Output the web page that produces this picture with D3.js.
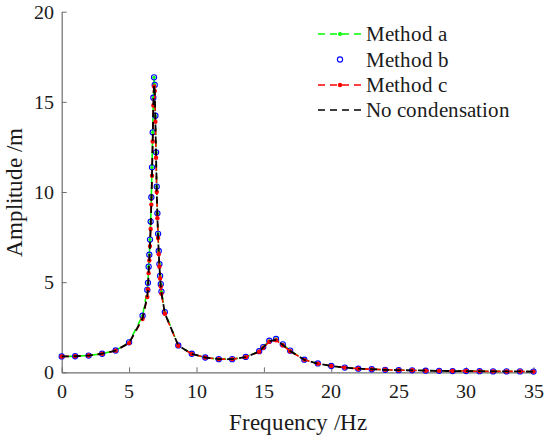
<!DOCTYPE html>
<html><head><meta charset="utf-8"><script src="https://cdn.jsdelivr.net/npm/d3@7"></script>
<style>
@font-face { font-family: 'ChartSerif'; src: local('Liberation Serif'), local('LiberationSerif'), local('LiberationSerif-Regular'); }
</style>
</head>
<body style="margin:0">
<svg id="chart" width="550" height="442" font-family="Liberation Serif"></svg>
<script>
// ---- data ----
const freq = [0,1,2,3,4,5,6,6.35,6.4,6.45,6.5,6.55,6.6,6.65,6.7,6.75,6.8,6.85,6.9,6.95,7.0,7.05,7.1,7.15,7.2,7.25,7.3,7.35,7.4,7.65,8.65,9.65,10.65,11.65,12.65,13.65,14.65,14.95,15.4,15.9,16.4,16.95,18,19,20,21,22,23,24,25,26,27,28,29,30,31,32,33,34,35];
const methodA = [0.88,0.89,0.93,1.03,1.21,1.66,3.14,4.57,4.96,5.86,6.52,7.36,8.36,9.71,11.37,13.31,15.23,16.36,15.94,14.23,12.2,10.3,8.82,7.68,6.73,6.0,5.35,4.89,4.48,3.34,1.49,1.03,0.82,0.73,0.73,0.85,1.17,1.4,1.75,1.85,1.55,1.2,0.7,0.49,0.35,0.26,0.2,0.17,0.14,0.12,0.11,0.09,0.08,0.07,0.07,0.06,0.05,0.05,0.05,0.04];
const methodB = [0.88,0.89,0.93,1.03,1.21,1.66,3.14,4.57,4.96,5.86,6.52,7.36,8.36,9.71,11.37,13.31,15.23,16.36,15.94,14.23,12.2,10.3,8.82,7.68,6.73,6.0,5.35,4.89,4.48,3.34,1.49,1.03,0.82,0.73,0.73,0.85,1.17,1.4,1.75,1.85,1.55,1.2,0.7,0.49,0.35,0.26,0.2,0.17,0.14,0.12,0.11,0.09,0.08,0.07,0.07,0.06,0.05,0.05,0.05,0.04];
const methodC = [0.88,0.89,0.93,1.03,1.2,1.62,2.95,4.17,4.6,5.5,6.2,7.0,7.95,9.3,10.9,12.8,14.8,15.85,15.6,13.9,11.9,10.0,8.55,7.45,6.55,5.85,5.2,4.75,4.35,3.25,1.47,1.02,0.82,0.73,0.73,0.84,1.14,1.36,1.7,1.78,1.5,1.17,0.69,0.48,0.35,0.26,0.2,0.17,0.14,0.12,0.11,0.09,0.08,0.07,0.07,0.06,0.05,0.05,0.05,0.04];
const noCond = [0.88,0.89,0.93,1.03,1.2,1.63,3.0,4.25,4.7,5.6,6.3,7.1,8.05,9.4,11.0,12.9,14.9,15.95,15.7,14.0,12.0,10.1,8.6,7.5,6.6,5.9,5.25,4.8,4.4,3.28,1.48,1.02,0.82,0.73,0.73,0.84,1.15,1.38,1.72,1.8,1.52,1.18,0.69,0.48,0.35,0.26,0.2,0.17,0.14,0.12,0.11,0.09,0.08,0.07,0.07,0.06,0.05,0.05,0.05,0.04];
const xTicks = [0,5,10,15,20,25,30,35];
const yTicks = [0,5,10,15,20];
const seriesNames = ["Method a","Method b","Method c","No condensation"];
const xLabel = "Frequency /Hz";
const yLabel = "Amplitude /m";

// ---- layout ----
const svg = d3.select("#chart");
const x = d3.scaleLinear().domain([0,35]).range([61.7,533.5]);
const y = d3.scaleLinear().domain([0,20]).range([372.3,11.7]);
const axisColor = "#6e6e6e";

function label(px, py, size, text, anchor, rot) {
  const t = svg.append("text").attr("x", px).attr("y", py)
    .attr("font-family", "Liberation Serif")
    .style("font-family", "'ChartSerif', 'Liberation Serif'").style("font-size", size + "px")
    .attr("fill", "#1a1a1a").attr("text-anchor", anchor).text(text);
  if (rot) t.attr("transform", `rotate(-90,${px},${py})`);
  return t;
}

// axes
const gx = svg.append("g").attr("transform", `translate(0,${y(0)})`)
  .call(d3.axisBottom(x).tickValues(xTicks).tickSizeInner(-5).tickSizeOuter(0).tickFormat(""));
const gy = svg.append("g").attr("transform", `translate(${x(0)},0)`)
  .call(d3.axisLeft(y).tickValues(yTicks).tickSizeInner(-5).tickSizeOuter(0).tickFormat(""));
[gx, gy].forEach(g => {
  g.attr("font-family", null).attr("font-size", null);
  g.select(".domain").attr("stroke", axisColor).attr("stroke-width", 1.2);
  g.selectAll(".tick line").attr("stroke", axisColor).attr("stroke-width", 1);
  g.selectAll(".tick text").remove();
});
xTicks.forEach(v => label(x(v), y(0) + 26, 20, String(v), "middle"));
yTicks.forEach(v => label(x(0) - 8, y(v) + 7, 20, String(v), "end"));

// axis labels
label((x(0)+x(35))/2, 430, 23, xLabel, "middle");
label(22, (y(0)+y(20))/2, 23, yLabel, "middle", true);

const line = vals => d3.line().x((d,i)=>x(freq[i])).y(d=>y(d))(vals);
const plot = svg.append("g");

// Method a: green dashed + small green dots
plot.append("path").attr("d", line(methodA)).attr("fill","none").attr("stroke","#00ff00")
  .attr("stroke-width",1.6).attr("stroke-dasharray","7,5").attr("stroke-dashoffset",6);
plot.append("g").selectAll("circle").data(methodA).join("circle")
  .attr("cx",(d,i)=>x(freq[i])).attr("cy",d=>y(d)).attr("r",1.6).attr("fill","#00ff00");

// Method b: blue open circles
plot.append("g").selectAll("circle").data(methodB).join("circle")
  .attr("cx",(d,i)=>x(freq[i])).attr("cy",d=>y(d)).attr("r",2.6).attr("fill","none")
  .attr("stroke","#0000ff").attr("stroke-width",1.1);

// Method c: red dashed + red dots
plot.append("path").attr("d", line(methodC)).attr("fill","none").attr("stroke","#ff0000")
  .attr("stroke-width",1.6).attr("stroke-dasharray","7,5");
plot.append("g").selectAll("circle").data(methodC).join("circle")
  .attr("cx",(d,i)=>x(freq[i])).attr("cy",d=>y(d)).attr("r",2.2).attr("fill","#ff0000");

// No condensation: black dashed
plot.append("path").attr("d", line(noCond)).attr("fill","none").attr("stroke","#000")
  .attr("stroke-width",1.8).attr("stroke-dasharray","7,5");

// ---- legend ----
const rowsY = [34, 59.5, 85, 110];
const lx0 = 318, lx1 = 362, lmx = 340;
seriesNames.forEach((name, i) => {
  const yy = rowsY[i];
  if (i === 0) {
    svg.append("line").attr("x1",lx0).attr("x2",lx1).attr("y1",yy).attr("y2",yy)
      .attr("stroke","#00ff00").attr("stroke-width",1.6).attr("stroke-dasharray","7,5");
    svg.append("circle").attr("cx",lmx).attr("cy",yy).attr("r",2).attr("fill","#00ff00");
  } else if (i === 1) {
    svg.append("circle").attr("cx",lmx).attr("cy",yy).attr("r",2.6).attr("fill","none")
      .attr("stroke","#0000ff").attr("stroke-width",1.1);
  } else if (i === 2) {
    svg.append("line").attr("x1",lx0).attr("x2",lx1).attr("y1",yy).attr("y2",yy)
      .attr("stroke","#ff0000").attr("stroke-width",1.6).attr("stroke-dasharray","7,5");
    svg.append("circle").attr("cx",lmx).attr("cy",yy).attr("r",2.2).attr("fill","#ff0000");
  } else {
    svg.append("line").attr("x1",lx0).attr("x2",lx1).attr("y1",yy).attr("y2",yy)
      .attr("stroke","#000").attr("stroke-width",1.6).attr("stroke-dasharray","7,5");
  }
  label(366, yy + 7, 21, name, "start");
});
</script>
</body>
</html>
